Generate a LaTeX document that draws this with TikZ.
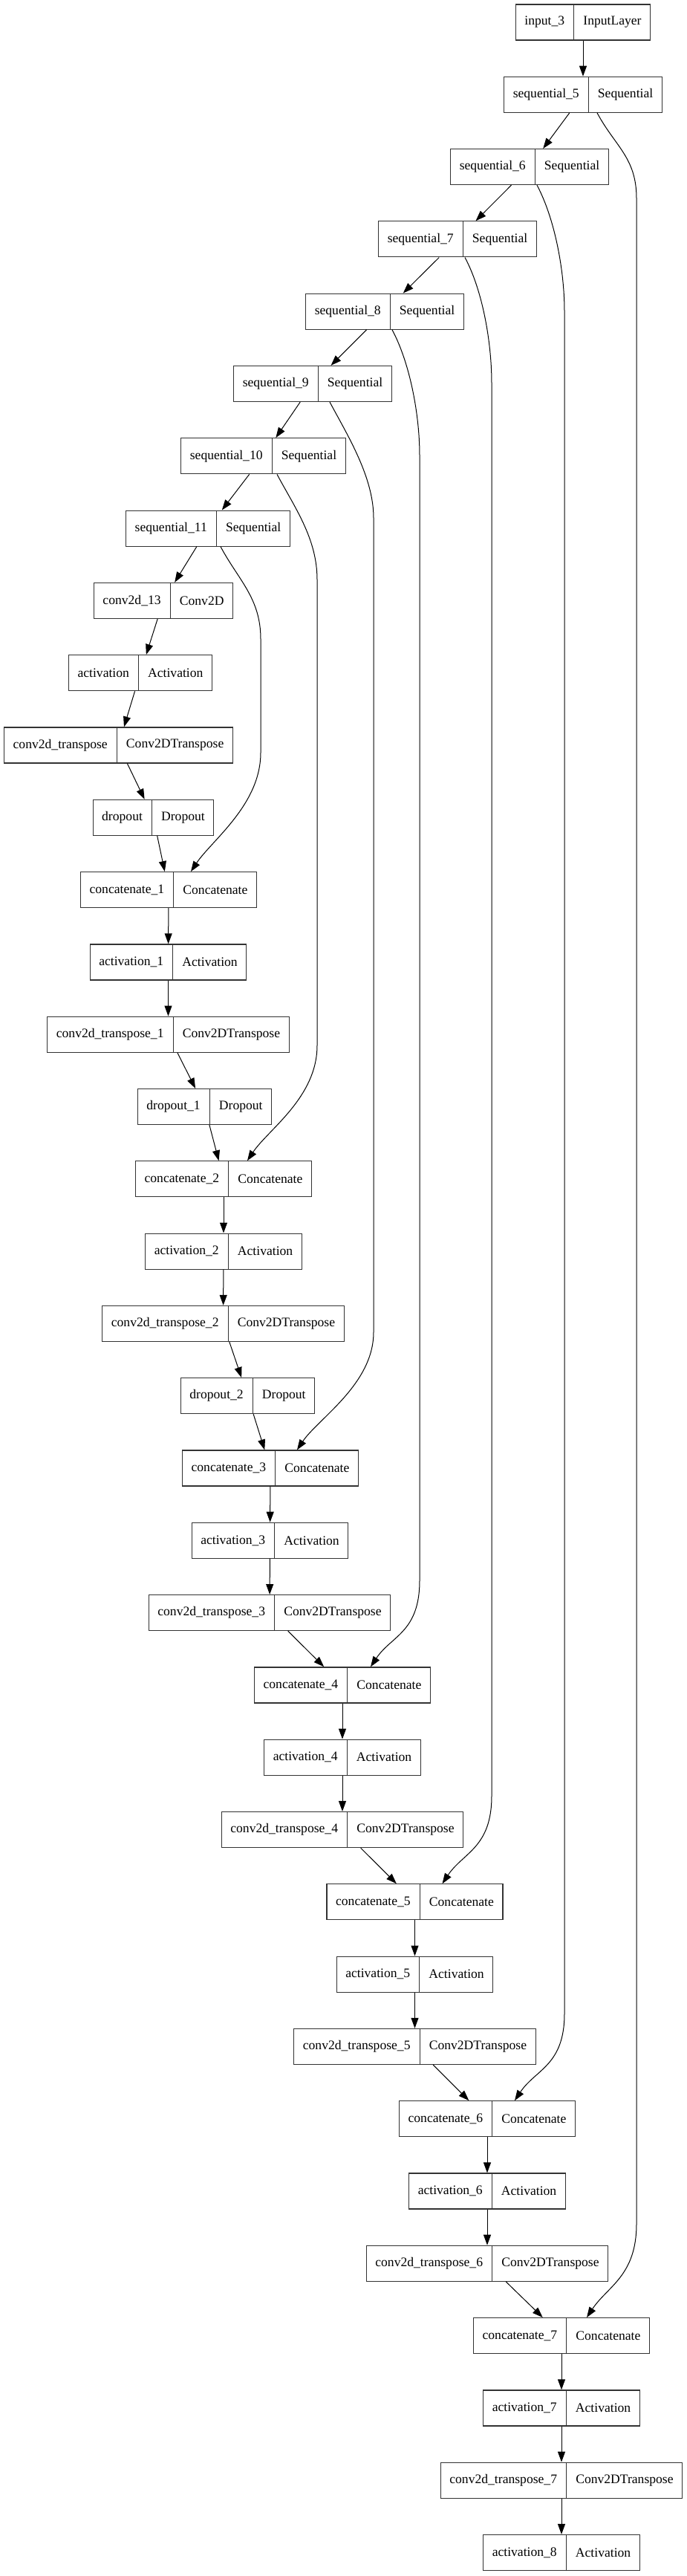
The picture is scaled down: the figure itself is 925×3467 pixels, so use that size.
\documentclass[tikz,border=0pt]{standalone}
\usepackage{fontspec}
\setmainfont{Liberation Serif}
\usetikzlibrary{arrows.meta,shapes.multipart,calc}
\tikzset{
  layerbox/.style={rectangle split, rectangle split horizontal, rectangle split parts=2,
    draw=black!80, line width=0.6pt, inner xsep=6pt, inner ysep=0pt, minimum height=24pt,
    font=\fontsize{8.8pt}{10pt}\selectfont},
  conn/.style={-{Triangle[length=7pt,width=5pt]}, line width=0.5pt}
}
% one layer box: name, centre x, row, layer name, layer class
\newcommand{\layer}[5]{%
  \node[layerbox] (#1) at (#2,{30+97.3*#3}) {#4\nodepart{two}#5};}
% long skip link: from, start shift, to, end shift, lane x, lane top, lane bottom
\newcommand{\skipconn}[7]{%
  \draw[conn] ($(#1.south)+(#2,0)$) .. controls +(24,45) and +(0,-55) .. (#5,#6)
    -- (#5,#7) .. controls +(0,70) and +(28,-42) .. ($(#3.north)+(#4,0)$);}

\begin{document}
\begin{tikzpicture}[x=0.5pt, y=-0.5pt]
  \useasboundingbox (0,0) rectangle (925,3467);
  \layer{in3}{785}{0}{input\_3}{InputLayer}
  \layer{seq5}{785}{1}{sequential\_5}{Sequential}
  \layer{seq6}{713}{2}{sequential\_6}{Sequential}
  \layer{seq7}{616}{3}{sequential\_7}{Sequential}
  \layer{seq8}{518}{4}{sequential\_8}{Sequential}
  \layer{seq9}{421}{5}{sequential\_9}{Sequential}
  \layer{seq10}{354.5}{6}{sequential\_10}{Sequential}
  \layer{seq11}{280}{7}{sequential\_11}{Sequential}
  \layer{conv13}{220}{8}{conv2d\_13}{Conv2D}
  \layer{act0}{189}{9}{activation}{Activation}
  \layer{convt0}{159.5}{10}{conv2d\_transpose}{Conv2DTranspose}
  \layer{drop0}{206.5}{11}{dropout}{Dropout}
  \layer{cat1}{227}{12}{concatenate\_1}{Concatenate}
  \layer{act1}{226.5}{13}{activation\_1}{Activation}
  \layer{convt1}{226.5}{14}{conv2d\_transpose\_1}{Conv2DTranspose}
  \layer{drop1}{275.5}{15}{dropout\_1}{Dropout}
  \layer{cat2}{301}{16}{concatenate\_2}{Concatenate}
  \layer{act2}{301}{17}{activation\_2}{Activation}
  \layer{convt2}{300.5}{18}{conv2d\_transpose\_2}{Conv2DTranspose}
  \layer{drop2}{333.5}{19}{dropout\_2}{Dropout}
  \layer{cat3}{364}{20}{concatenate\_3}{Concatenate}
  \layer{act3}{363.5}{21}{activation\_3}{Activation}
  \layer{convt3}{363}{22}{conv2d\_transpose\_3}{Conv2DTranspose}
  \layer{cat4}{461}{23}{concatenate\_4}{Concatenate}
  \layer{act4}{461}{24}{activation\_4}{Activation}
  \layer{convt4}{461}{25}{conv2d\_transpose\_4}{Conv2DTranspose}
  \layer{cat5}{558.5}{26}{concatenate\_5}{Concatenate}
  \layer{act5}{558.5}{27}{activation\_5}{Activation}
  \layer{convt5}{558.5}{28}{conv2d\_transpose\_5}{Conv2DTranspose}
  \layer{cat6}{656}{29}{concatenate\_6}{Concatenate}
  \layer{act6}{656}{30}{activation\_6}{Activation}
  \layer{convt6}{656}{31}{conv2d\_transpose\_6}{Conv2DTranspose}
  \layer{cat7}{756}{32}{concatenate\_7}{Concatenate}
  \layer{act7}{756}{33}{activation\_7}{Activation}
  \layer{convt7}{756}{34}{conv2d\_transpose\_7}{Conv2DTranspose}
  \layer{act8}{756}{35}{activation\_8}{Activation}
  % main chain
  \foreach \a/\b in {in3/seq5, seq5/seq6, seq6/seq7, seq7/seq8, seq8/seq9, seq9/seq10,
      seq10/seq11, seq11/conv13, conv13/act0, act0/convt0, convt0/drop0, drop0/cat1,
      cat1/act1, act1/convt1, convt1/drop1, drop1/cat2, cat2/act2, act2/convt2,
      convt2/drop2, drop2/cat3, cat3/act3, act3/convt3, convt3/cat4, cat4/act4,
      act4/convt4, convt4/cat5, cat5/act5, act5/convt5, convt5/cat6, cat6/act6,
      act6/convt6, convt6/cat7, cat7/act7, act7/convt7, convt7/act8}
    {\draw[conn] (\a) -- (\b);}
  % skip links into the concatenates
  \skipconn{seq11}{17}{cat1}{30}{351}{860}{1013}
  \skipconn{seq10}{18.5}{cat2}{32}{427}{780}{1407}
  \skipconn{seq9}{23}{cat3}{36}{503}{697}{1793}
  \skipconn{seq8}{10}{cat4}{38}{565}{613}{2127}
  \skipconn{seq7}{10}{cat5}{37}{662}{516}{2417}
  \skipconn{seq6}{10}{cat6}{37}{760}{419}{2710}
  \skipconn{seq5}{19}{cat7}{34}{857}{267}{2993}
\end{tikzpicture}
\end{document}
